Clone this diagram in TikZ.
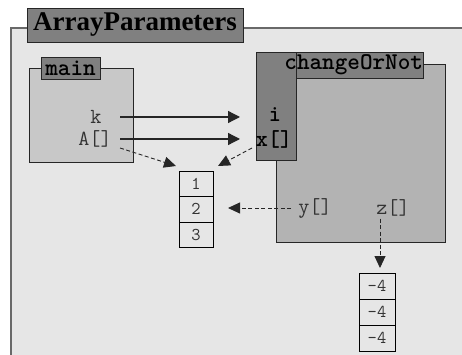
\documentclass[tikz,border=0pt]{standalone}
\usepackage{fontspec}
\setmainfont{Liberation Serif}
\usetikzlibrary{arrows.meta,positioning}
\definecolor{apback}{RGB}{230,230,230}
\definecolor{apframe}{RGB}{105,105,105}
\definecolor{aptab}{RGB}{128,128,128}
\definecolor{apmain}{RGB}{200,200,200}
\definecolor{apcall}{RGB}{179,179,179}
\definecolor{aptext}{RGB}{51,51,51}

\begin{document}
\begin{tikzpicture}[
    x=1pt, y=-1pt,
    >={Triangle[length=12pt,width=12pt]},
    frame/.style={draw=black!85, line width=0.9pt, inner sep=0pt, outer sep=0pt, anchor=north west},
    tab/.style={frame, fill=aptab, font=\fontsize{24}{24}\selectfont\ttfamily\bfseries},
    var/.style={text=aptext, inner sep=2pt, font=\fontsize{21.5}{21.5}\selectfont\ttfamily},
    param/.style={text=black, inner sep=2pt, font=\fontsize{23}{23}\selectfont\ttfamily\bfseries},
    cell/.style={draw=black, fill=apback, line width=0.8pt, inner sep=0pt, outer sep=0pt,
                 minimum width=34pt, minimum height=25.5pt, text=aptext,
                 font=\fontsize{18}{18}\selectfont\ttfamily},
    link/.style={->, draw=black!85, line width=1.3pt},
    ref/.style={->, draw=black!85, line width=0.9pt, dash pattern=on 4pt off 2.5pt,
                >={Triangle[length=12pt,width=11pt]}},
  ]
  \useasboundingbox (0,0) rectangle (462,355);

  %% ---------------- outer frame ----------------
  \fill[apback] (11,28) rectangle (470,365);
  \draw[apframe, line width=1.6pt] (11,365) -- (11,28) -- (470,28);
  \node[frame, fill=aptab, minimum width=216pt, minimum height=34pt,
        font=\fontsize{27}{27}\selectfont\bfseries] (title) at (27,8) {ArrayParameters};

  %% ---------------- main ----------------
  \node[frame, fill=apmain, minimum width=104pt, minimum height=94pt] (mainbox) at (29,68) {};
  \node[tab, minimum width=59pt, minimum height=22pt] (maintab) at (41,57) {main};
  \node[var] (k) at (96,117) {k};
  \node[var] (A) at (95,139) {A[]};

  %% ---------------- changeOrNot ----------------
  \node[frame, fill=apcall, minimum width=169pt, minimum height=178pt] (callbox) at (276,64) {};
  \node[tab, minimum width=167pt, minimum height=26pt] (calltab) at (256,52) {};
  \node[frame, fill=aptab, minimum width=40pt, minimum height=108pt] (col) at (256,52) {};
  \node[tab, draw=none, fill=none, anchor=east] (callname) at (calltab.east) {changeOrNot};
  \node[param] (i) at (275,115) {i};
  \node[param] (x) at (274,139) {x[]};
  \node[var] (y) at (315,208) {y[]};
  \node[var] (z) at (393,208) {z[]};

  %% ---------------- arrays ----------------
  \node[cell, anchor=north west] (a1) at (179,171) {1};
  \node[cell, below=0pt of a1] (a2) {2};
  \node[cell, below=0pt of a2] (a3) {3};
  \node[cell, minimum width=36pt, minimum height=26pt, anchor=north west] (b1) at (359,273) {-4};
  \node[cell, minimum width=36pt, minimum height=26pt, below=0pt of b1] (b2) {-4};
  \node[cell, minimum width=36pt, minimum height=26pt, below=0pt of b2] (b3) {-4};

  %% ---------------- connectors ----------------
  \draw[link] ([xshift=-13pt]mainbox.east |- k) -- ([xshift=-16pt]col.west |- k);
  \draw[link] ([xshift=-13pt]mainbox.east |- A) -- ([xshift=-16pt]col.west |- A);
  \draw[ref] ([shift={(-13pt,-9pt)}]mainbox.east |- A) -- ([shift={(-3pt,5pt)}]a1.north west);
  \draw[ref] ([shift={(-4pt,-9pt)}]col.west |- x) -- ([shift={(5pt,5pt)}]a1.north east);
  \draw[ref] ([xshift=-5pt]y.west) -- ([xshift=15pt]a2.east |- y);
  \draw[ref] ([xshift=3pt]b1.north |- z.south) -- ([shift={(3pt,5pt)}]b1.north);

\end{tikzpicture}
\end{document}
